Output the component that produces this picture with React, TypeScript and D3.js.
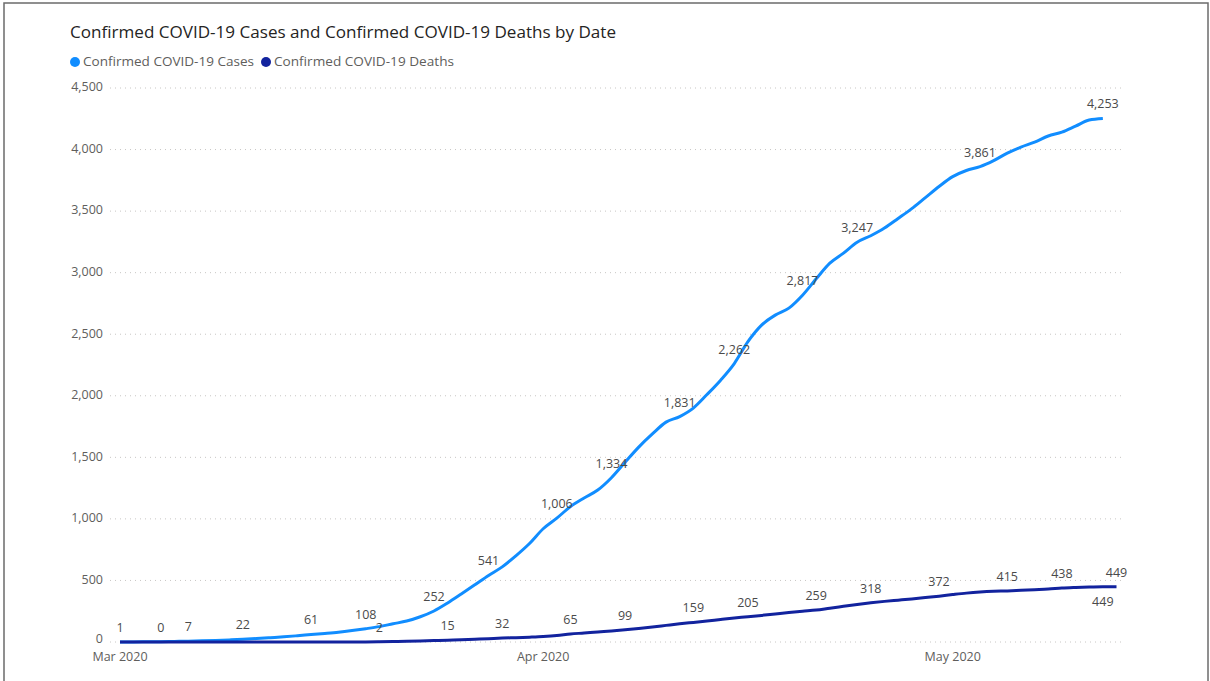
import * as d3 from "d3";

const W = 1210;
const H = 681;

const title = "Confirmed COVID-19 Cases and Confirmed COVID-19 Deaths by Date";
const seriesNames = ["Confirmed COVID-19 Cases", "Confirmed COVID-19 Deaths"];
const seriesColors = ["#118DFF", "#12239E"];

// daily cumulative values starting Mar 1 2020
const cases = [
  1, 1, 2, 3, 5, 7, 10, 13, 17, 22, 28, 35, 42, 51, 61, 70, 80, 93, 108, 125,
  148, 170, 205, 252, 317, 390, 465, 541, 610, 700, 800, 920, 1006, 1100, 1170,
  1234, 1334, 1460, 1583, 1690, 1786, 1831, 1900, 2010, 2127, 2262, 2440, 2574,
  2655, 2712, 2817, 2950, 3077, 3159, 3247, 3300, 3362, 3440, 3520, 3610, 3700,
  3780, 3830, 3861, 3910, 3971, 4020, 4060, 4110, 4141, 4190, 4240, 4253,
];
const deaths = [
  0, 0, 0, 0, 0, 0, 0, 0, 0, 0, 0, 0, 0, 0, 0, 0, 0, 1, 1, 2, 4, 6, 9, 12, 15,
  19, 23, 27, 32, 35, 39, 44, 52, 65, 73, 82, 90, 99, 110, 122, 135, 148, 159,
  170, 183, 195, 205, 216, 228, 240, 250, 259, 275, 290, 305, 318, 330, 340, 350,
  361, 372, 385, 397, 406, 412, 415, 420, 425, 430, 438, 443, 447, 449, 449,
];

// which days carry a data label
const caseLabelDays = [0, 5, 9, 14, 18, 23, 27, 32, 36, 41, 45, 50, 54, 63, 72];
const deathLabelDays = [3, 19, 24, 28, 33, 37, 42, 46, 51, 55, 60, 65, 69, 73];
const deathLabelBelowDays = [72];

const yTicks = [0, 500, 1000, 1500, 2000, 2500, 3000, 3500, 4000, 4500];
const monthTicks = ["2020-03-01", "2020-04-01", "2020-05-01"];

const start = new Date(Date.UTC(2020, 2, 1));
const dayDate = (i: number) => d3.utcDay.offset(start, i);

const font = "'Segoe UI', 'Open Sans', 'Noto Sans', sans-serif";
const grey = "#605E5C";

export default function App() {
  const x = d3
    .scaleUtc()
    .domain([start, dayDate(73)])
    .range([120, 1116.5]);
  const y = d3.scaleLinear().domain([0, 4500]).range([642, 88]);

  const line = d3
    .line<number>()
    .x((_, i) => x(dayDate(i)))
    .y((d) => y(d))
    .curve(d3.curveMonotoneX);

  const fmt = d3.format(",");
  const tickFmt = d3.utcFormat("%b %Y");

  return (
    <svg
      width={W}
      height={H}
      style={{ position: "absolute", left: 0, top: 0, background: "#fff" }}
      fontFamily={font}
    >
      <rect x={4} y={3} width={1204} height={H + 10} fill="#fff" stroke="#6b6b6b" strokeWidth={1.5} />

      <text x={70} y={38} fontSize={16} fill="#252423" textLength={546} lengthAdjust="spacingAndGlyphs">
        {title}
      </text>

      {/* legend */}
      <circle cx={75} cy={62} r={5} fill={seriesColors[0]} />
      <text x={83} y={66} fontSize={12} fill={grey} textLength={171} lengthAdjust="spacingAndGlyphs">
        {seriesNames[0]}
      </text>
      <circle cx={266} cy={62} r={5} fill={seriesColors[1]} />
      <text x={274} y={66} fontSize={12} fill={grey} textLength={180} lengthAdjust="spacingAndGlyphs">
        {seriesNames[1]}
      </text>

      {/* grid + y axis */}
      {yTicks.map((t) => (
        <g key={t}>
          <line
            x1={110}
            x2={1125}
            y1={y(t)}
            y2={y(t)}
            stroke="#c8c6c4"
            strokeWidth={1}
            strokeDasharray="1 4"
          />
          <text
            x={103}
            y={y(t) - (t === 0 ? 2 : 0)}
            fontSize={12.5}
            fill={grey}
            textAnchor="end"
            dominantBaseline="middle"
          >
            {fmt(t)}
          </text>
        </g>
      ))}

      {/* x axis labels */}
      {monthTicks.map((m) => {
        const d = new Date(m + "T00:00:00Z");
        return (
          <text
            key={m}
            x={x(d)}
            y={661}
            fontSize={12.5}
            fill={grey}
            textAnchor="middle"
          >
            {tickFmt(d)}
          </text>
        );
      })}

      {/* lines */}
      <path d={line(cases) ?? ""} fill="none" stroke={seriesColors[0]} strokeWidth={3} strokeLinejoin="round" />
      <path d={line(deaths) ?? ""} fill="none" stroke={seriesColors[1]} strokeWidth={3} strokeLinejoin="round" />

      {/* data labels */}
      {caseLabelDays.map((i) => (
        <text
          key={"c" + i}
          x={x(dayDate(i))}
          y={y(cases[i]) - 10}
          fontSize={12.5}
          fill="#4a4a4a"
          textAnchor="middle"
        >
          {fmt(cases[i])}
        </text>
      ))}
      {deathLabelDays.map((i) => (
        <text
          key={"d" + i}
          x={x(dayDate(i))}
          y={y(deaths[i]) - 10}
          fontSize={12.5}
          fill="#4a4a4a"
          textAnchor="middle"
        >
          {fmt(deaths[i])}
        </text>
      ))}
      {deathLabelBelowDays.map((i) => (
        <text
          key={"db" + i}
          x={x(dayDate(i))}
          y={y(deaths[i]) + 19}
          fontSize={12.5}
          fill="#4a4a4a"
          textAnchor="middle"
        >
          {fmt(deaths[i])}
        </text>
      ))}
    </svg>
  );
}
